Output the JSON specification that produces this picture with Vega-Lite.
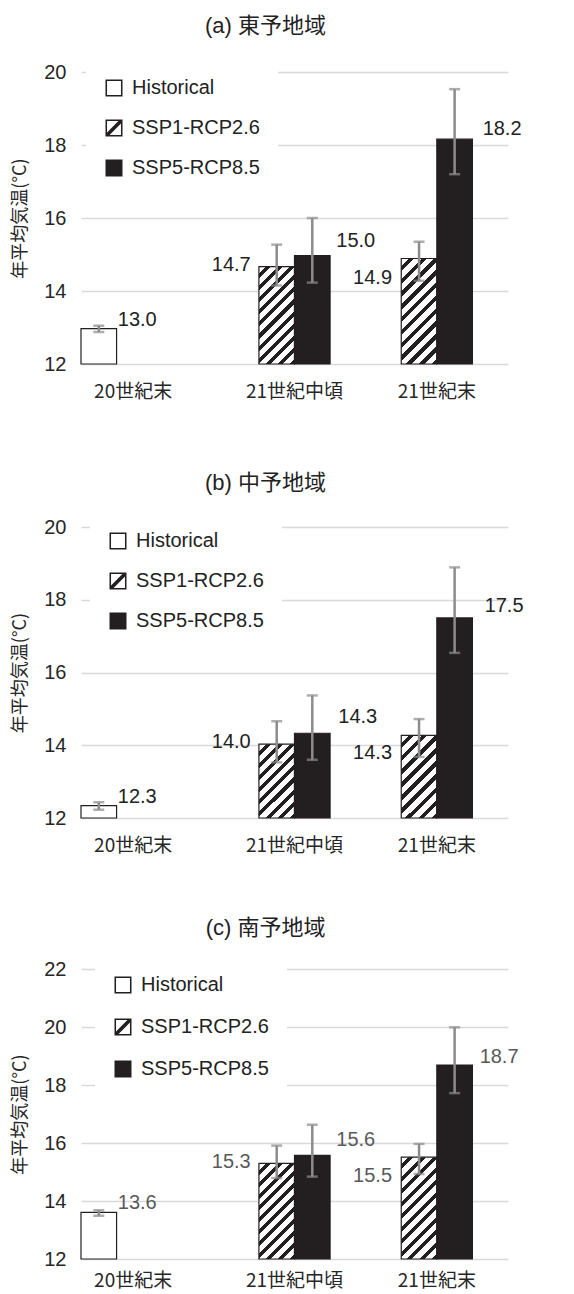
{
  "$schema": "https://vega.github.io/schema/vega-lite/v6.json",
  "padding": {"left": 11, "top": 15, "right": 5, "bottom": 0},
  "background": "white",
  "data": {"values": [
    {"region": "a", "period": "20世紀末", "scenario": "Historical", "value": 12.97, "lo": 12.88, "hi": 13.05},
    {"region": "a", "period": "21世紀中頃", "scenario": "SSP1-RCP2.6", "value": 14.67, "lo": 14.15, "hi": 15.27},
    {"region": "a", "period": "21世紀中頃", "scenario": "SSP5-RCP8.5", "value": 14.97, "lo": 14.23, "hi": 16.0},
    {"region": "a", "period": "21世紀末", "scenario": "SSP1-RCP2.6", "value": 14.89, "lo": 14.28, "hi": 15.35},
    {"region": "a", "period": "21世紀末", "scenario": "SSP5-RCP8.5", "value": 18.16, "lo": 17.2, "hi": 19.53},
    {"region": "b", "period": "20世紀末", "scenario": "Historical", "value": 12.34, "lo": 12.23, "hi": 12.43},
    {"region": "b", "period": "21世紀中頃", "scenario": "SSP1-RCP2.6", "value": 14.03, "lo": 13.53, "hi": 14.66},
    {"region": "b", "period": "21世紀中頃", "scenario": "SSP5-RCP8.5", "value": 14.33, "lo": 13.6, "hi": 15.37},
    {"region": "b", "period": "21世紀末", "scenario": "SSP1-RCP2.6", "value": 14.27, "lo": 13.68, "hi": 14.72},
    {"region": "b", "period": "21世紀末", "scenario": "SSP5-RCP8.5", "value": 17.5, "lo": 16.54, "hi": 18.89},
    {"region": "c", "period": "20世紀末", "scenario": "Historical", "value": 13.61, "lo": 13.49, "hi": 13.68},
    {"region": "c", "period": "21世紀中頃", "scenario": "SSP1-RCP2.6", "value": 15.3, "lo": 14.79, "hi": 15.91},
    {"region": "c", "period": "21世紀中頃", "scenario": "SSP5-RCP8.5", "value": 15.57, "lo": 14.84, "hi": 16.63},
    {"region": "c", "period": "21世紀末", "scenario": "SSP1-RCP2.6", "value": 15.51, "lo": 14.93, "hi": 15.97},
    {"region": "c", "period": "21世紀末", "scenario": "SSP5-RCP8.5", "value": 18.69, "lo": 17.72, "hi": 19.99}
  ]},
  "resolve": {"scale": {"shape": "independent", "x": "independent", "y": "independent", "xOffset": "independent"}, "legend": {"shape": "independent"}},
  "spacing": 62,
  "vconcat": [
    {
      "resolve": {"scale": {"shape": "independent", "x": "independent", "y": "independent", "xOffset": "independent"}, "legend": {"shape": "independent"}},
      "spacing": 71,
      "vconcat": [
        {
          "width": 427, "height": 292,
          "title": {"text": "(a) 東予地域", "offset": 22, "dx": -29, "frame": "group"},
          "transform": [{"filter": "datum.region === 'a'"}],
          "encoding": {
            "x": {"field": "period", "type": "nominal", "title": null, "scale": {"domain": ["20世紀末", "21世紀中頃", "21世紀末"], "paddingInner": 0, "paddingOuter": 0}, "axis": {"labelPadding": 18, "labelOffset": {"condition": {"test": "datum.value === '20世紀末'", "value": -19}, "value": 0}}},
            "xOffset": {"field": "scenario", "type": "nominal", "scale": {"domain": ["Historical", "SSP1-RCP2.6", "SSP5-RCP8.5", "_"], "paddingInner": 0, "paddingOuter": 0}}
          },
          "layer": [
            {
              "mark": {"type": "bar", "stroke": "#231f20", "strokeWidth": 1.2},
              "encoding": {
                "y": {"field": "value", "type": "quantitative", "title": "年平均気温(°C)", "scale": {"domain": [12, 20], "nice": false, "zero": false}, "axis": {"values": [12, 14, 16, 18, 20]}},
                "y2": {"datum": 12},
                "fill": {
                  "value": "#231f20",
                  "condition": [
                    {"test": "datum.scenario === 'Historical'", "value": "#ffffff"},
                    {"test": "datum.period === '21世紀中頃' && datum.scenario === 'SSP1-RCP2.6'", "value": {"gradient": "linear", "x1": 0, "y1": 0, "x2": 0.4397, "y2": 1.2045, "stops": [{"offset":0,"color":"#ffffff"},{"offset":0.0527,"color":"#ffffff"},{"offset":0.0527,"color":"#231f20"},{"offset":0.0909,"color":"#231f20"},{"offset":0.0909,"color":"#ffffff"},{"offset":0.1436,"color":"#ffffff"},{"offset":0.1436,"color":"#231f20"},{"offset":0.1818,"color":"#231f20"},{"offset":0.1818,"color":"#ffffff"},{"offset":0.2345,"color":"#ffffff"},{"offset":0.2345,"color":"#231f20"},{"offset":0.2727,"color":"#231f20"},{"offset":0.2727,"color":"#ffffff"},{"offset":0.3254,"color":"#ffffff"},{"offset":0.3254,"color":"#231f20"},{"offset":0.3636,"color":"#231f20"},{"offset":0.3636,"color":"#ffffff"},{"offset":0.4163,"color":"#ffffff"},{"offset":0.4163,"color":"#231f20"},{"offset":0.4545,"color":"#231f20"},{"offset":0.4545,"color":"#ffffff"},{"offset":0.5072,"color":"#ffffff"},{"offset":0.5072,"color":"#231f20"},{"offset":0.5455,"color":"#231f20"},{"offset":0.5455,"color":"#ffffff"},{"offset":0.5982,"color":"#ffffff"},{"offset":0.5982,"color":"#231f20"},{"offset":0.6364,"color":"#231f20"},{"offset":0.6364,"color":"#ffffff"},{"offset":0.6891,"color":"#ffffff"},{"offset":0.6891,"color":"#231f20"},{"offset":0.7273,"color":"#231f20"},{"offset":0.7273,"color":"#ffffff"},{"offset":0.78,"color":"#ffffff"},{"offset":0.78,"color":"#231f20"},{"offset":0.8182,"color":"#231f20"},{"offset":0.8182,"color":"#ffffff"},{"offset":0.8709,"color":"#ffffff"},{"offset":0.8709,"color":"#231f20"},{"offset":0.9091,"color":"#231f20"},{"offset":0.9091,"color":"#ffffff"},{"offset":0.9618,"color":"#ffffff"},{"offset":0.9618,"color":"#231f20"},{"offset":1,"color":"#231f20"}]}},
                    {"test": "datum.period === '21世紀末' && datum.scenario === 'SSP1-RCP2.6'", "value": {"gradient": "linear", "x1": 0, "y1": 0, "x2": 0.405, "y2": 1.2007, "stops": [{"offset":0,"color":"#ffffff"},{"offset":0.0527,"color":"#ffffff"},{"offset":0.0527,"color":"#231f20"},{"offset":0.0909,"color":"#231f20"},{"offset":0.0909,"color":"#ffffff"},{"offset":0.1436,"color":"#ffffff"},{"offset":0.1436,"color":"#231f20"},{"offset":0.1818,"color":"#231f20"},{"offset":0.1818,"color":"#ffffff"},{"offset":0.2345,"color":"#ffffff"},{"offset":0.2345,"color":"#231f20"},{"offset":0.2727,"color":"#231f20"},{"offset":0.2727,"color":"#ffffff"},{"offset":0.3254,"color":"#ffffff"},{"offset":0.3254,"color":"#231f20"},{"offset":0.3636,"color":"#231f20"},{"offset":0.3636,"color":"#ffffff"},{"offset":0.4163,"color":"#ffffff"},{"offset":0.4163,"color":"#231f20"},{"offset":0.4545,"color":"#231f20"},{"offset":0.4545,"color":"#ffffff"},{"offset":0.5072,"color":"#ffffff"},{"offset":0.5072,"color":"#231f20"},{"offset":0.5455,"color":"#231f20"},{"offset":0.5455,"color":"#ffffff"},{"offset":0.5982,"color":"#ffffff"},{"offset":0.5982,"color":"#231f20"},{"offset":0.6364,"color":"#231f20"},{"offset":0.6364,"color":"#ffffff"},{"offset":0.6891,"color":"#ffffff"},{"offset":0.6891,"color":"#231f20"},{"offset":0.7273,"color":"#231f20"},{"offset":0.7273,"color":"#ffffff"},{"offset":0.78,"color":"#ffffff"},{"offset":0.78,"color":"#231f20"},{"offset":0.8182,"color":"#231f20"},{"offset":0.8182,"color":"#ffffff"},{"offset":0.8709,"color":"#ffffff"},{"offset":0.8709,"color":"#231f20"},{"offset":0.9091,"color":"#231f20"},{"offset":0.9091,"color":"#ffffff"},{"offset":0.9618,"color":"#ffffff"},{"offset":0.9618,"color":"#231f20"},{"offset":1,"color":"#231f20"}]}}
                  ]
                }
              }
            },
            {"mark": {"type": "rule", "color": "#8c8c8c", "strokeWidth": 2.5}, "encoding": {"y": {"field": "lo", "type": "quantitative", "title": "年平均気温(°C)"}, "y2": {"field": "hi"}}},
            {"mark": {"type": "tick", "color": "#8c8c8c", "size": 11, "thickness": 2.5}, "encoding": {"y": {"field": "lo", "type": "quantitative", "title": "年平均気温(°C)"}}},
            {"mark": {"type": "tick", "color": "#8c8c8c", "size": 11, "thickness": 2.5}, "encoding": {"y": {"field": "hi", "type": "quantitative", "title": "年平均気温(°C)"}}},
            {
              "mark": {"type": "text", "color": "#222222", "fontSize": 20, "baseline": "middle",
                "align": {"expr": "datum.scenario === 'SSP1-RCP2.6' ? 'right' : 'left'"},
                "dx": {"expr": "datum.scenario === 'Historical' ? 19 : datum.scenario === 'SSP1-RCP2.6' ? (datum.period === '21世紀中頃' ? -26 : -27) : (datum.period === '21世紀中頃' ? 24 : 28)"},
                "dy": {"expr": "datum.scenario === 'Historical' ? -9 : datum.scenario === 'SSP1-RCP2.6' ? (datum.period === '21世紀中頃' ? -2 : 19) : (datum.period === '21世紀中頃' ? -15 : -10)"}},
              "encoding": {"y": {"field": "value", "type": "quantitative", "title": "年平均気温(°C)"}, "text": {"field": "value", "type": "quantitative", "format": ".1f"}}
            },
            {
              "transform": [{"filter": "datum.region === 'none'"}],
              "mark": {"type": "point", "filled": true, "fill": "#231f20", "strokeWidth": 0, "size": 289, "opacity": 1},
              "encoding": {"shape": {"field": "scenario", "type": "nominal",
                "scale": {"domain": ["Historical", "SSP1-RCP2.6", "SSP5-RCP8.5"], "range": ["M-1,-1H1V1H-1ZM-0.82,-0.82V0.82H0.82V-0.82Z", "M-1,-1H1V1H-1ZM-0.82,-0.82V0.82H0.82V-0.82ZM0.52,-0.82L0.82,-0.82L0.82,-0.52L-0.52,0.82L-0.82,0.82L-0.82,0.52Z", "M-1,-1H1V1H-1Z"]},
                "legend": {"orient": "none", "legendX": 5, "legendY": -12, "rowPadding": 20}}}
            }
          ]
        },
        {
          "width": 427, "height": 291,
          "title": {"text": "(b) 中予地域", "offset": 18, "dx": -29, "frame": "group"},
          "transform": [{"filter": "datum.region === 'b'"}],
          "encoding": {
            "x": {"field": "period", "type": "nominal", "title": null, "scale": {"domain": ["20世紀末", "21世紀中頃", "21世紀末"], "paddingInner": 0, "paddingOuter": 0}, "axis": {"labelPadding": 18, "labelOffset": {"condition": {"test": "datum.value === '20世紀末'", "value": -19}, "value": 0}}},
            "xOffset": {"field": "scenario", "type": "nominal", "scale": {"domain": ["Historical", "SSP1-RCP2.6", "SSP5-RCP8.5", "_"], "paddingInner": 0, "paddingOuter": 0}}
          },
          "layer": [
            {
              "mark": {"type": "bar", "stroke": "#231f20", "strokeWidth": 1.2},
              "encoding": {
                "y": {"field": "value", "type": "quantitative", "title": "年平均気温(°C)", "scale": {"domain": [12, 20], "nice": false, "zero": false}, "axis": {"values": [12, 14, 16, 18, 20]}},
                "y2": {"datum": 12},
                "fill": {
                  "value": "#231f20",
                  "condition": [
                    {"test": "datum.scenario === 'Historical'", "value": "#ffffff"},
                    {"test": "datum.period === '21世紀中頃' && datum.scenario === 'SSP1-RCP2.6'", "value": {"gradient": "linear", "x1": 0, "y1": 0, "x2": 0.5776, "y2": 1.2029, "stops": [{"offset":0,"color":"#ffffff"},{"offset":0.0644,"color":"#ffffff"},{"offset":0.0644,"color":"#231f20"},{"offset":0.1111,"color":"#231f20"},{"offset":0.1111,"color":"#ffffff"},{"offset":0.1755,"color":"#ffffff"},{"offset":0.1755,"color":"#231f20"},{"offset":0.2222,"color":"#231f20"},{"offset":0.2222,"color":"#ffffff"},{"offset":0.2866,"color":"#ffffff"},{"offset":0.2866,"color":"#231f20"},{"offset":0.3333,"color":"#231f20"},{"offset":0.3333,"color":"#ffffff"},{"offset":0.3977,"color":"#ffffff"},{"offset":0.3977,"color":"#231f20"},{"offset":0.4444,"color":"#231f20"},{"offset":0.4444,"color":"#ffffff"},{"offset":0.5088,"color":"#ffffff"},{"offset":0.5088,"color":"#231f20"},{"offset":0.5556,"color":"#231f20"},{"offset":0.5556,"color":"#ffffff"},{"offset":0.62,"color":"#ffffff"},{"offset":0.62,"color":"#231f20"},{"offset":0.6667,"color":"#231f20"},{"offset":0.6667,"color":"#ffffff"},{"offset":0.7311,"color":"#ffffff"},{"offset":0.7311,"color":"#231f20"},{"offset":0.7778,"color":"#231f20"},{"offset":0.7778,"color":"#ffffff"},{"offset":0.8422,"color":"#ffffff"},{"offset":0.8422,"color":"#231f20"},{"offset":0.8889,"color":"#231f20"},{"offset":0.8889,"color":"#ffffff"},{"offset":0.9533,"color":"#ffffff"},{"offset":0.9533,"color":"#231f20"},{"offset":1,"color":"#231f20"}]}},
                    {"test": "datum.period === '21世紀末' && datum.scenario === 'SSP1-RCP2.6'", "value": {"gradient": "linear", "x1": 0, "y1": 0, "x2": 0.5182, "y2": 1.2069, "stops": [{"offset":0,"color":"#ffffff"},{"offset":0.0644,"color":"#ffffff"},{"offset":0.0644,"color":"#231f20"},{"offset":0.1111,"color":"#231f20"},{"offset":0.1111,"color":"#ffffff"},{"offset":0.1755,"color":"#ffffff"},{"offset":0.1755,"color":"#231f20"},{"offset":0.2222,"color":"#231f20"},{"offset":0.2222,"color":"#ffffff"},{"offset":0.2866,"color":"#ffffff"},{"offset":0.2866,"color":"#231f20"},{"offset":0.3333,"color":"#231f20"},{"offset":0.3333,"color":"#ffffff"},{"offset":0.3977,"color":"#ffffff"},{"offset":0.3977,"color":"#231f20"},{"offset":0.4444,"color":"#231f20"},{"offset":0.4444,"color":"#ffffff"},{"offset":0.5088,"color":"#ffffff"},{"offset":0.5088,"color":"#231f20"},{"offset":0.5556,"color":"#231f20"},{"offset":0.5556,"color":"#ffffff"},{"offset":0.62,"color":"#ffffff"},{"offset":0.62,"color":"#231f20"},{"offset":0.6667,"color":"#231f20"},{"offset":0.6667,"color":"#ffffff"},{"offset":0.7311,"color":"#ffffff"},{"offset":0.7311,"color":"#231f20"},{"offset":0.7778,"color":"#231f20"},{"offset":0.7778,"color":"#ffffff"},{"offset":0.8422,"color":"#ffffff"},{"offset":0.8422,"color":"#231f20"},{"offset":0.8889,"color":"#231f20"},{"offset":0.8889,"color":"#ffffff"},{"offset":0.9533,"color":"#ffffff"},{"offset":0.9533,"color":"#231f20"},{"offset":1,"color":"#231f20"}]}}
                  ]
                }
              }
            },
            {"mark": {"type": "rule", "color": "#8c8c8c", "strokeWidth": 2.5}, "encoding": {"y": {"field": "lo", "type": "quantitative", "title": "年平均気温(°C)"}, "y2": {"field": "hi"}}},
            {"mark": {"type": "tick", "color": "#8c8c8c", "size": 11, "thickness": 2.5}, "encoding": {"y": {"field": "lo", "type": "quantitative", "title": "年平均気温(°C)"}}},
            {"mark": {"type": "tick", "color": "#8c8c8c", "size": 11, "thickness": 2.5}, "encoding": {"y": {"field": "hi", "type": "quantitative", "title": "年平均気温(°C)"}}},
            {
              "mark": {"type": "text", "color": "#222222", "fontSize": 20, "baseline": "middle",
                "align": {"expr": "datum.scenario === 'SSP1-RCP2.6' ? 'right' : 'left'"},
                "dx": {"expr": "datum.scenario === 'Historical' ? 19 : datum.scenario === 'SSP1-RCP2.6' ? (datum.period === '21世紀中頃' ? -26 : -27) : (datum.period === '21世紀中頃' ? 26 : 30)"},
                "dy": {"expr": "datum.scenario === 'Historical' ? -9 : datum.scenario === 'SSP1-RCP2.6' ? (datum.period === '21世紀中頃' ? -2 : 18) : (datum.period === '21世紀中頃' ? -16 : -12)"}},
              "encoding": {"y": {"field": "value", "type": "quantitative", "title": "年平均気温(°C)"}, "text": {"field": "value", "type": "quantitative", "format": ".1f"}}
            },
            {
              "transform": [{"filter": "datum.region === 'none'"}],
              "mark": {"type": "point", "filled": true, "fill": "#231f20", "strokeWidth": 0, "size": 289, "opacity": 1},
              "encoding": {"shape": {"field": "scenario", "type": "nominal",
                "scale": {"domain": ["Historical", "SSP1-RCP2.6", "SSP5-RCP8.5"], "range": ["M-1,-1H1V1H-1ZM-0.82,-0.82V0.82H0.82V-0.82Z", "M-1,-1H1V1H-1ZM-0.82,-0.82V0.82H0.82V-0.82ZM0.52,-0.82L0.82,-0.82L0.82,-0.52L-0.52,0.82L-0.82,0.82L-0.82,0.52Z", "M-1,-1H1V1H-1Z"]},
                "legend": {"orient": "none", "legendX": 9, "legendY": -14, "rowPadding": 20}}}
            }
          ]
        }
      ]
    },
    {
      "width": 427, "height": 290,
      "title": {"text": "(c) 南予地域", "offset": 17, "dx": -29, "frame": "group"},
      "transform": [{"filter": "datum.region === 'c'"}],
      "encoding": {
        "x": {"field": "period", "type": "nominal", "title": null, "scale": {"domain": ["20世紀末", "21世紀中頃", "21世紀末"], "paddingInner": 0, "paddingOuter": 0}, "axis": {"labelPadding": 12, "labelOffset": {"condition": {"test": "datum.value === '20世紀末'", "value": -19}, "value": 0}}},
        "xOffset": {"field": "scenario", "type": "nominal", "scale": {"domain": ["Historical", "SSP1-RCP2.6", "SSP5-RCP8.5", "_"], "paddingInner": 0, "paddingOuter": 0}}
      },
      "layer": [
        {
          "mark": {"type": "bar", "stroke": "#231f20", "strokeWidth": 1.2},
          "encoding": {
            "y": {"field": "value", "type": "quantitative", "title": "年平均気温(°C)", "scale": {"domain": [12, 22], "nice": false, "zero": false}, "axis": {"values": [12, 14, 16, 18, 20, 22]}},
            "y2": {"datum": 12},
            "fill": {
              "value": "#231f20",
              "condition": [
                {"test": "datum.scenario === 'Historical'", "value": "#ffffff"},
                {"test": "datum.period === '21世紀中頃' && datum.scenario === 'SSP1-RCP2.6'", "value": {"gradient": "linear", "x1": 0, "y1": 0, "x2": 0.4481, "y2": 1.2052, "stops": [{"offset":0,"color":"#ffffff"},{"offset":0.0527,"color":"#ffffff"},{"offset":0.0527,"color":"#231f20"},{"offset":0.0909,"color":"#231f20"},{"offset":0.0909,"color":"#ffffff"},{"offset":0.1436,"color":"#ffffff"},{"offset":0.1436,"color":"#231f20"},{"offset":0.1818,"color":"#231f20"},{"offset":0.1818,"color":"#ffffff"},{"offset":0.2345,"color":"#ffffff"},{"offset":0.2345,"color":"#231f20"},{"offset":0.2727,"color":"#231f20"},{"offset":0.2727,"color":"#ffffff"},{"offset":0.3254,"color":"#ffffff"},{"offset":0.3254,"color":"#231f20"},{"offset":0.3636,"color":"#231f20"},{"offset":0.3636,"color":"#ffffff"},{"offset":0.4163,"color":"#ffffff"},{"offset":0.4163,"color":"#231f20"},{"offset":0.4545,"color":"#231f20"},{"offset":0.4545,"color":"#ffffff"},{"offset":0.5072,"color":"#ffffff"},{"offset":0.5072,"color":"#231f20"},{"offset":0.5455,"color":"#231f20"},{"offset":0.5455,"color":"#ffffff"},{"offset":0.5982,"color":"#ffffff"},{"offset":0.5982,"color":"#231f20"},{"offset":0.6364,"color":"#231f20"},{"offset":0.6364,"color":"#ffffff"},{"offset":0.6891,"color":"#ffffff"},{"offset":0.6891,"color":"#231f20"},{"offset":0.7273,"color":"#231f20"},{"offset":0.7273,"color":"#ffffff"},{"offset":0.78,"color":"#ffffff"},{"offset":0.78,"color":"#231f20"},{"offset":0.8182,"color":"#231f20"},{"offset":0.8182,"color":"#ffffff"},{"offset":0.8709,"color":"#ffffff"},{"offset":0.8709,"color":"#231f20"},{"offset":0.9091,"color":"#231f20"},{"offset":0.9091,"color":"#ffffff"},{"offset":0.9618,"color":"#ffffff"},{"offset":0.9618,"color":"#231f20"},{"offset":1,"color":"#231f20"}]}},
                {"test": "datum.period === '21世紀末' && datum.scenario === 'SSP1-RCP2.6'", "value": {"gradient": "linear", "x1": 0, "y1": 0, "x2": 0.4204, "y2": 1.2027, "stops": [{"offset":0,"color":"#ffffff"},{"offset":0.0527,"color":"#ffffff"},{"offset":0.0527,"color":"#231f20"},{"offset":0.0909,"color":"#231f20"},{"offset":0.0909,"color":"#ffffff"},{"offset":0.1436,"color":"#ffffff"},{"offset":0.1436,"color":"#231f20"},{"offset":0.1818,"color":"#231f20"},{"offset":0.1818,"color":"#ffffff"},{"offset":0.2345,"color":"#ffffff"},{"offset":0.2345,"color":"#231f20"},{"offset":0.2727,"color":"#231f20"},{"offset":0.2727,"color":"#ffffff"},{"offset":0.3254,"color":"#ffffff"},{"offset":0.3254,"color":"#231f20"},{"offset":0.3636,"color":"#231f20"},{"offset":0.3636,"color":"#ffffff"},{"offset":0.4163,"color":"#ffffff"},{"offset":0.4163,"color":"#231f20"},{"offset":0.4545,"color":"#231f20"},{"offset":0.4545,"color":"#ffffff"},{"offset":0.5072,"color":"#ffffff"},{"offset":0.5072,"color":"#231f20"},{"offset":0.5455,"color":"#231f20"},{"offset":0.5455,"color":"#ffffff"},{"offset":0.5982,"color":"#ffffff"},{"offset":0.5982,"color":"#231f20"},{"offset":0.6364,"color":"#231f20"},{"offset":0.6364,"color":"#ffffff"},{"offset":0.6891,"color":"#ffffff"},{"offset":0.6891,"color":"#231f20"},{"offset":0.7273,"color":"#231f20"},{"offset":0.7273,"color":"#ffffff"},{"offset":0.78,"color":"#ffffff"},{"offset":0.78,"color":"#231f20"},{"offset":0.8182,"color":"#231f20"},{"offset":0.8182,"color":"#ffffff"},{"offset":0.8709,"color":"#ffffff"},{"offset":0.8709,"color":"#231f20"},{"offset":0.9091,"color":"#231f20"},{"offset":0.9091,"color":"#ffffff"},{"offset":0.9618,"color":"#ffffff"},{"offset":0.9618,"color":"#231f20"},{"offset":1,"color":"#231f20"}]}}
              ]
            }
          }
        },
        {"mark": {"type": "rule", "color": "#8c8c8c", "strokeWidth": 2.5}, "encoding": {"y": {"field": "lo", "type": "quantitative", "title": "年平均気温(°C)"}, "y2": {"field": "hi"}}},
        {"mark": {"type": "tick", "color": "#8c8c8c", "size": 11, "thickness": 2.5}, "encoding": {"y": {"field": "lo", "type": "quantitative", "title": "年平均気温(°C)"}}},
        {"mark": {"type": "tick", "color": "#8c8c8c", "size": 11, "thickness": 2.5}, "encoding": {"y": {"field": "hi", "type": "quantitative", "title": "年平均気温(°C)"}}},
        {
          "mark": {"type": "text", "color": "#595959", "fontSize": 20, "baseline": "middle",
            "align": {"expr": "datum.scenario === 'SSP1-RCP2.6' ? 'right' : 'left'"},
            "dx": {"expr": "datum.scenario === 'Historical' ? 19 : datum.scenario === 'SSP1-RCP2.6' ? (datum.period === '21世紀中頃' ? -26 : -27) : (datum.period === '21世紀中頃' ? 24 : 25)"},
            "dy": {"expr": "datum.scenario === 'Historical' ? -9 : datum.scenario === 'SSP1-RCP2.6' ? (datum.period === '21世紀中頃' ? -1 : 19) : (datum.period === '21世紀中頃' ? -15 : -8)"}},
          "encoding": {"y": {"field": "value", "type": "quantitative", "title": "年平均気温(°C)"}, "text": {"field": "value", "type": "quantitative", "format": ".1f"}}
        },
        {
          "transform": [{"filter": "datum.region === 'none'"}],
          "mark": {"type": "point", "filled": true, "fill": "#231f20", "strokeWidth": 0, "size": 289, "opacity": 1},
          "encoding": {"shape": {"field": "scenario", "type": "nominal",
            "scale": {"domain": ["Historical", "SSP1-RCP2.6", "SSP5-RCP8.5"], "range": ["M-1,-1H1V1H-1ZM-0.82,-0.82V0.82H0.82V-0.82Z", "M-1,-1H1V1H-1ZM-0.82,-0.82V0.82H0.82V-0.82ZM0.52,-0.82L0.82,-0.82L0.82,-0.52L-0.52,0.82L-0.82,0.82L-0.82,0.52Z", "M-1,-1H1V1H-1Z"]},
            "legend": {"orient": "none", "legendX": 14, "legendY": -12, "rowPadding": 22}}}
        }
      ]
    }
  ],
  "config": {
    "view": {"stroke": null},
    "font": "Liberation Sans Narrow, Liberation Sans, Noto Sans CJK JP",
    "title": {"fontSize": 22, "fontWeight": "normal", "color": "#222222", "font": "Liberation Sans, Noto Sans CJK JP", "anchor": "middle"},
    "axis": {"domain": false, "ticks": false, "labelColor": "#262626", "titleColor": "#262626"},
    "axisX": {"grid": false, "labelAngle": 0, "labelFontSize": 19, "labelFont": "Liberation Sans Narrow, Noto Sans CJK JP"},
    "axisY": {"grid": true, "gridColor": "#d9d9d9", "gridWidth": 1.5, "labelPadding": 15, "labelFontSize": 20, "labelFont": "Liberation Sans Narrow, Liberation Sans", "titleFont": "Noto Sans CJK JP", "titleFontSize": 18, "titleFontWeight": "normal", "titlePadding": 14},
    "legend": {"title": null, "fillColor": "#ffffff", "padding": 18, "symbolSize": 289, "symbolStrokeWidth": 0, "symbolFillColor": "#231f20", "labelFontSize": 20, "labelFont": "Liberation Sans", "labelColor": "#222222", "rowPadding": 20, "labelOffset": 8}
  }
}
